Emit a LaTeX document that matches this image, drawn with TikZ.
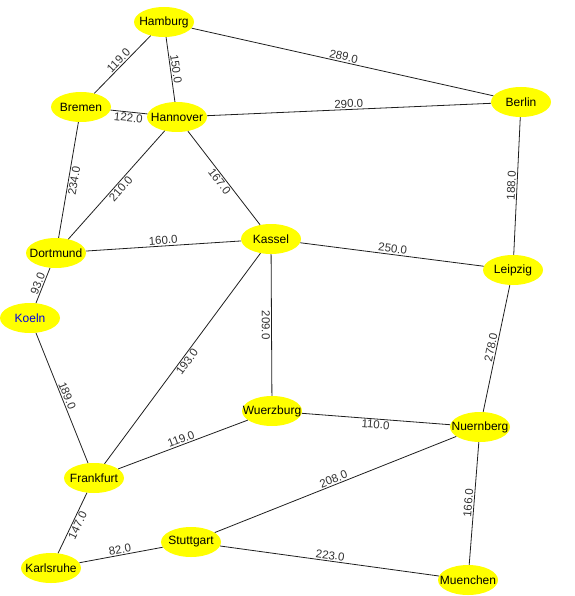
\documentclass[tikz,border=0pt]{standalone}
\usepackage{fontspec}
\setmainfont{Liberation Sans}
\usetikzlibrary{shapes.geometric}
\definecolor{cityyellow}{RGB}{255,255,0}
\definecolor{edgecol}{RGB}{30,30,30}
\definecolor{labcol}{RGB}{50,50,50}
\definecolor{koelnblue}{RGB}{0,0,230}
\newcommand{\cityname}[1]{\makebox[0pt]{#1}}
\tikzset{
  city/.style={ellipse, fill=cityyellow, minimum width=60pt, minimum height=30pt, inner sep=0pt, font=\fontsize{12}{14}\selectfont, text=black},
  road/.style={draw=edgecol, line width=0.8pt},
  dist/.style={midway, sloped, inner sep=1.2pt, font=\fontsize{11.5}{13}\selectfont, text=labcol}
}
\begin{document}
\begin{tikzpicture}[x=1pt,y=-1pt]
\useasboundingbox (0,0) rectangle (574,596);
\node[city] (hamburg) at (164,22) {\cityname{Hamburg}};
\node[city] (bremen) at (81,107) {\cityname{Bremen}};
\node[city] (hannover) at (177,117) {\cityname{Hannover}};
\node[city] (berlin) at (521,102) {\cityname{Berlin}};
\node[city] (dortmund) at (56,253) {\cityname{Dortmund}};
\node[city] (kassel) at (271,239) {\cityname{Kassel}};
\node[city] (leipzig) at (513,270) {\cityname{Leipzig}};
\node[city, text=koelnblue] (koeln) at (30,318) {\cityname{Koeln}};
\node[city] (frankfurt) at (94,478) {\cityname{Frankfurt}};
\node[city] (wuerzburg) at (272,411) {\cityname{Wuerzburg}};
\node[city] (nuernberg) at (480,427) {\cityname{Nuernberg}};
\node[city] (stuttgart) at (191,542) {\cityname{Stuttgart}};
\node[city] (karlsruhe) at (51,568) {\cityname{Karlsruhe}};
\node[city] (muenchen) at (468,580) {\cityname{Muenchen}};

\draw[road] (hamburg) -- node[dist, above] {119.0} (bremen);
\draw[road] (hamburg) -- node[dist, above] {150.0} (hannover);
\draw[road] (hamburg) -- node[dist, above] {289.0} (berlin);
\draw[road] (bremen) -- node[dist, below] {122.0} (hannover);
\draw[road] (hannover) -- node[dist, above] {290.0} (berlin);
\draw[road] (bremen) -- node[dist, below] {234.0} (dortmund);
\draw[road] (hannover) -- node[dist, below] {210.0} (dortmund);
\draw[road] (hannover) -- node[dist, below] {167.0} (kassel);
\draw[road] (dortmund) -- node[dist, above] {160.0} (kassel);
\draw[road] (dortmund) -- node[dist, above] {93.0} (koeln);
\draw[road] (berlin) -- node[dist, above] {188.0} (leipzig);
\draw[road] (kassel) -- node[dist, above] {250.0} (leipzig);
\draw[road] (kassel) -- node[dist, below] {209.0} (wuerzburg);
\draw[road] (kassel) -- node[dist, below] {193.0} (frankfurt);
\draw[road] (koeln) -- node[dist, above] {189.0} (frankfurt);
\draw[road] (leipzig) -- node[dist, above] {278.0} (nuernberg);
\draw[road] (wuerzburg) -- node[dist, below] {110.0} (nuernberg);
\draw[road] (frankfurt) -- node[dist, above] {119.0} (wuerzburg);
\draw[road] (frankfurt) -- node[dist, below] {147.0} (karlsruhe);
\draw[road] (karlsruhe) -- node[dist, above] {82.0} (stuttgart);
\draw[road] (stuttgart) -- node[dist, above] {208.0} (nuernberg);
\draw[road] (stuttgart) -- node[dist, above] {223.0} (muenchen);
\draw[road] (nuernberg) -- node[dist, above] {166.0} (muenchen);
\end{tikzpicture}
\end{document}
